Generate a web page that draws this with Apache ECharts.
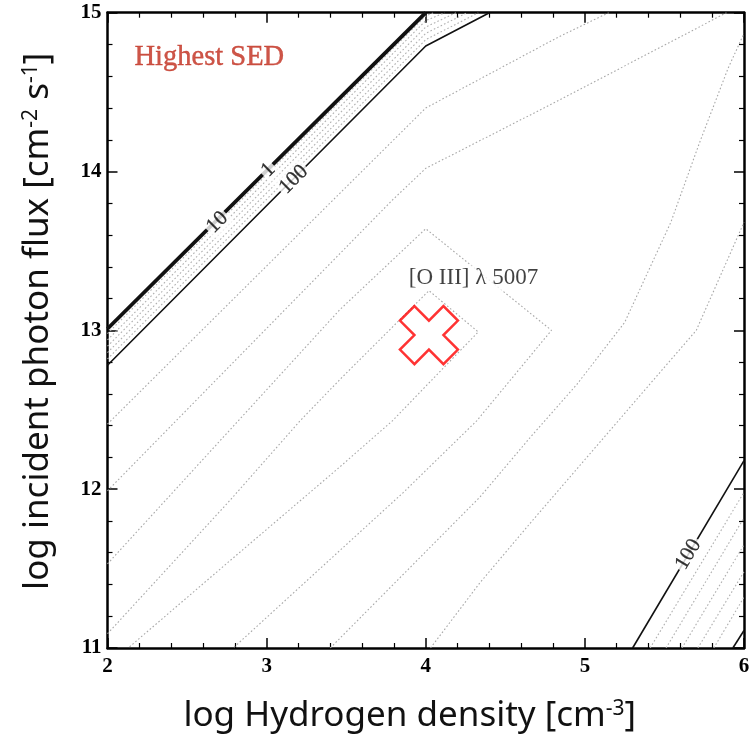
<!DOCTYPE html>
<html><head><meta charset="utf-8">
<script src="https://cdn.jsdelivr.net/npm/echarts@6/dist/echarts.min.js"></script>
<style>html,body{margin:0;padding:0;background:#fff}#c{width:754px;height:741px}</style>
</head><body><div id="c"></div>
<script>
// Axis ranges / ticks
const xTicks = [2, 3, 4, 5, 6];
const yTicks = [11, 12, 13, 14, 15];

// Solid contours (flux ratio levels)
const solidThick_1_10 = [[2, 13.01], [4.0, 15.0]];
const solidUpper_100 = [[2, 12.78], [4.0, 14.79], [4.40, 15.0]];
const solidLower_100 = [[5.30, 11.0], [6.0, 12.18]];
const solidCorner = [[5.93, 11.0], [6.0, 11.11]];

// Hatched band (dense dotted lines) between upper solid contours
const bandUpper1 = [[2, 12.82], [4.0, 14.83], [4.33, 15.0]];
const bandUpper2 = [[2, 12.86], [4.0, 14.87], [4.26, 15.0]];
const bandUpper3 = [[2, 12.90], [4.0, 14.91], [4.19, 15.0]];
const bandUpper4 = [[2, 12.94], [4.0, 14.95], [4.12, 15.0]];
const bandUpper5 = [[2, 12.98], [4.0, 14.98], [4.05, 15.0]];
// Hatched band near the lower-right corner
const bandLower1 = [[5.41, 11.0], [6.0, 11.98]];
const bandLower2 = [[5.51, 11.0], [6.0, 11.82]];
const bandLower3 = [[5.61, 11.0], [6.0, 11.65]];
const bandLower4 = [[5.71, 11.0], [6.0, 11.48]];
const bandLower5 = [[5.81, 11.0], [6.0, 11.32]];

// [O III] 5007 emissivity contours (dotted)
const oiiiL1 = [[2, 12.41], [4.0, 14.40], [4.84, 14.85], [5.15, 15.0]];
const oiiiL2 = [[2, 11.99], [3.79, 13.82], [4.0, 14.02], [4.84, 14.45], [5.89, 15.0]];
const oiiiOuter = [[2, 11.53], [3.46, 13.13], [4.0, 13.64], [4.79, 13.0], [4.32, 12.43], [3.86, 11.98], [2.79, 11.0]];
const oiiiInner = [[2, 11.09], [2.77, 11.93], [3.21, 12.43], [3.46, 12.69], [4.02, 13.25], [4.33, 12.99], [3.79, 12.43], [3.46, 12.14], [2.77, 11.55], [2.13, 11.0]];
const oiiiD = [[3.40, 11.0], [4.34, 11.95], [4.66, 12.33], [4.95, 12.66], [5.25, 13.05], [5.54, 13.68], [5.72, 14.18], [5.90, 14.65], [6.0, 14.87]];
const oiiiE = [[4.03, 11.0], [4.34, 11.41], [4.66, 11.79], [5.39, 12.64], [5.70, 13.0], [6.0, 13.68]];

// Contour labels
const contourLabels = [
  { text: '10', pos: [2.69, 13.68], angle: 45 },
  { text: '1', pos: [3.01, 14.01], angle: 45 },
  { text: '100', pos: [3.17, 13.95], angle: 45 },
  { text: '100', pos: [5.65, 11.59], angle: 59 }
];
// Annotations
const markerPos = [4.02, 12.97];
const lineLabel = { text: '[O III] λ 5007', pos: [4.30, 13.33] };
const sedLabel = { text: 'Highest SED', pos: [2.64, 14.72] };

const chart = echarts.init(document.getElementById('c'));

function solid(data, w) {
  return { type: 'line', data: data, symbol: 'none', silent: true, z: 3,
    lineStyle: { color: '#111', width: w, type: 'solid' } };
}
function dotted(data, c) {
  return { type: 'line', data: data, symbol: 'none', silent: true, z: 2,
    lineStyle: { color: c || '#a8a8a8', width: 1.1, type: [1.6, 2.2] } };
}

const serif = '"Liberation Serif", "DejaVu Serif", serif';
const sans = '"Noto Sans", "Open Sans", sans-serif';
const axisCommon = {
  type: 'value', splitLine: { show: false },
  axisLine: { show: true, onZero: false, lineStyle: { color: '#000', width: 2.5 } },
  axisTick: { show: true, inside: true, length: 10, lineStyle: { color: '#000', width: 1.5 } },
  minorTick: { show: true, splitNumber: 5, length: 5, lineStyle: { color: '#000', width: 1.2 } },
  minorSplitLine: { show: false }
};

const series = [
  dotted(bandUpper1, '#b0b0b0'), dotted(bandUpper2, '#b0b0b0'), dotted(bandUpper3, '#b0b0b0'),
  dotted(bandUpper4, '#b0b0b0'), dotted(bandUpper5, '#b0b0b0'),
  dotted(bandLower1, '#b0b0b0'), dotted(bandLower2, '#b0b0b0'), dotted(bandLower3, '#b0b0b0'),
  dotted(bandLower4, '#b0b0b0'), dotted(bandLower5, '#b0b0b0'),
  dotted(oiiiL1), dotted(oiiiL2), dotted(oiiiOuter), dotted(oiiiInner), dotted(oiiiD), dotted(oiiiE),
  solid(solidThick_1_10, 3.8), solid(solidUpper_100, 1.6), solid(solidLower_100, 1.6), solid(solidCorner, 1.6)
];

contourLabels.forEach(function (l) {
  series.push({
    type: 'scatter', data: [l.pos], symbolSize: 1, silent: true, z: 6,
    itemStyle: { color: 'rgba(0,0,0,0)' },
    label: { show: true, position: 'inside', formatter: l.text, rotate: l.angle,
      fontFamily: serif, fontSize: 21, color: '#000', backgroundColor: '#fff', padding: [0, 2],
      textBorderColor: '#000', textBorderWidth: 0.3 }
  });
});

series.push({
  type: 'scatter', data: [lineLabel.pos], symbolSize: 1, silent: true, z: 6,
  itemStyle: { color: 'rgba(0,0,0,0)' },
  label: { show: true, position: 'inside', formatter: lineLabel.text,
    fontFamily: serif, fontSize: 23, color: '#111', backgroundColor: '#fff', padding: [1, 2] }
});
series.push({
  type: 'scatter', data: [sedLabel.pos], symbolSize: 1, silent: true, z: 6,
  itemStyle: { color: 'rgba(0,0,0,0)' },
  label: { show: true, position: 'inside', formatter: sedLabel.text,
    fontFamily: serif, fontSize: 28.5, color: '#c02a1a', textBorderColor: '#c02a1a', textBorderWidth: 0.4 }
});
series.push({
  type: 'scatter', data: [markerPos], silent: true, z: 7,
  symbol: 'path://M25,0 L50,25 L75,0 L100,25 L75,50 L100,75 L75,100 L50,75 L25,100 L0,75 L25,50 L0,25 Z',
  symbolSize: 58, symbolKeepAspect: true,
  itemStyle: { color: '#fff', borderColor: '#ff0000', borderWidth: 2.5 }
});

function titleStyle(pad) {
  return { fontFamily: sans, fontSize: 35, color: '#111', padding: pad,
    rich: { sup: { fontSize: 21, verticalAlign: 'top', lineHeight: 35, fontFamily: sans, color: '#111' } } };
}

chart.setOption({
  animation: false,
  backgroundColor: '#fff',
  grid: { left: 107.5, right: 10, top: 12.7, bottom: 93, containLabel: false },
  xAxis: [
    Object.assign({}, axisCommon, {
      min: xTicks[0], max: xTicks[xTicks.length - 1], interval: 1, position: 'bottom',
      name: 'log Hydrogen density [cm{sup|-3}]', nameLocation: 'middle', nameGap: 51,
      nameTextStyle: titleStyle([0, 32, 0, 0]),
      axisLabel: { show: true, margin: 8, fontFamily: serif, fontWeight: 'bold', fontSize: 21, color: '#000' }
    }),
    Object.assign({}, axisCommon, {
      min: xTicks[0], max: xTicks[xTicks.length - 1], interval: 1, position: 'top',
      axisLabel: { show: false }
    })
  ],
  yAxis: [
    Object.assign({}, axisCommon, {
      min: yTicks[0], max: yTicks[yTicks.length - 1], interval: 1, position: 'left',
      name: 'log incident photon flux [cm{sup|-2} s{sup|-1}]', nameLocation: 'middle', nameGap: 52,
      nameTextStyle: titleStyle([0, 0, 0, 18]),
      axisLabel: { show: true, margin: 6, fontFamily: serif, fontWeight: 'bold', fontSize: 21, color: '#000' }
    }),
    Object.assign({}, axisCommon, {
      min: yTicks[0], max: yTicks[yTicks.length - 1], interval: 1, position: 'right',
      axisLabel: { show: false }
    })
  ],
  series: series
});
</script></body></html>
